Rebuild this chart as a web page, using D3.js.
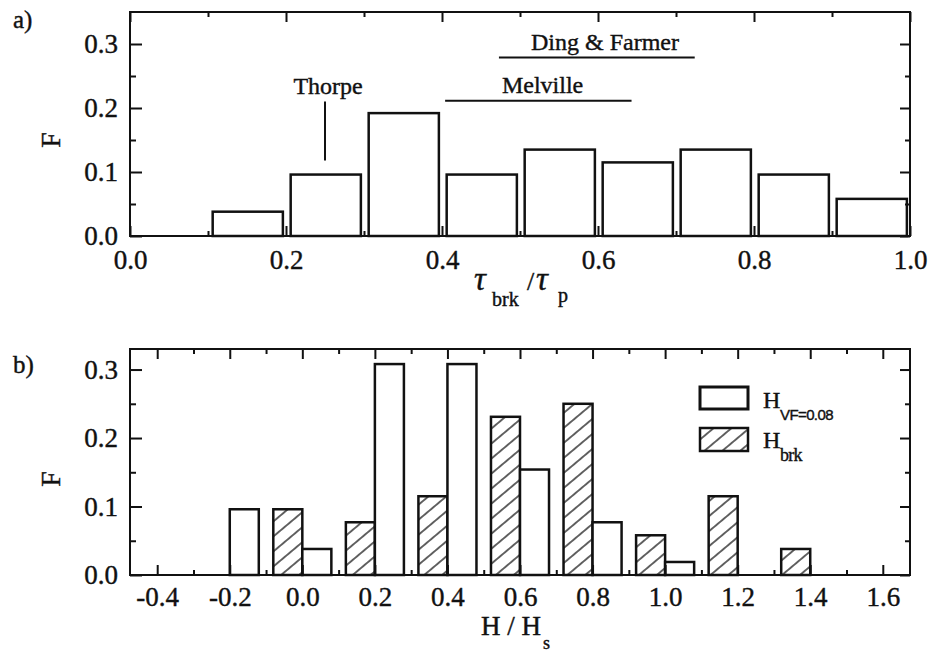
<!DOCTYPE html>
<html>
<head>
<meta charset="utf-8">
<script src="https://cdnjs.cloudflare.com/ajax/libs/d3/7.8.5/d3.min.js"></script>
<style>
body { margin: 0; background: #fff; }
text { font-family: "Liberation Serif", "Times New Roman", serif; fill: #111; stroke: #111; stroke-width: 0.4px; }
.axis text { font-size: 27px; font-family: "Liberation Serif", serif; }
.axis line { stroke: #111; stroke-width: 2; }
.note { font-size: 24px; }
.sub-sans { font-family: "Liberation Sans", Arial, sans-serif; }
</style>
</head>
<body>
<div id="vis"></div>
<script>
// ---- panel a data: breaking time over wave period ----
const binStartA = [0.1, 0.2, 0.3, 0.4, 0.5, 0.6, 0.7, 0.8, 0.9];
const freqA = [0.038, 0.096, 0.192, 0.096, 0.135, 0.115, 0.135, 0.096, 0.058];
const xTicksA = [0.0, 0.2, 0.4, 0.6, 0.8, 1.0];
const xMinorA = [0.1, 0.3, 0.5, 0.7, 0.9];
const yTicksA = [0.0, 0.1, 0.2, 0.3];
const yMinorA = [0.05, 0.15, 0.25];

// other authors' ranges (x range / vertical marker)
const notesA = [
  {name: 'Thorpe', x0: 0.25, x1: 0.25, y0: 0.118, y1: 0.21, tx: 0.254, ty: 0.222},
  {name: 'Melville', x0: 0.404, x1: 0.643, y0: 0.2115, y1: 0.2115, tx: 0.529, ty: 0.223},
  {name: 'Ding & Farmer', x0: 0.473, x1: 0.724, y0: 0.279, y1: 0.279, tx: 0.609, ty: 0.290}
];

// ---- panel b data: wave height over significant height ----
const binCenterB = [-0.2, 0.0, 0.2, 0.4, 0.6, 0.8, 1.0, 1.2, 1.4];
const freqVF = [0.096, 0.038, 0.308, 0.308, 0.154, 0.077, 0.019, 0, 0];
const freqBrk = [0, 0.096, 0.077, 0.115, 0.231, 0.250, 0.058, 0.115, 0.038];
const xTicksB = [-0.4, -0.2, 0.0, 0.2, 0.4, 0.6, 0.8, 1.0, 1.2, 1.4, 1.6];
const xMinorB = [-0.3, -0.1, 0.1, 0.3, 0.5, 0.7, 0.9, 1.1, 1.3, 1.5];
const yTicksB = [0.0, 0.1, 0.2, 0.3];
const yMinorB = [0.05, 0.15, 0.25];

// layout
const left = 130, plotW = 780;
const topA = 12, hA = 224;
const topB = 349, hB = 226;

const svg = d3.select('#vis')
  .append('svg')
  .attr('width', 931)
  .attr('height', 652);

// hatch pattern for H_brk
const defs = svg.append('defs');
const pat = defs.append('pattern')
  .attr('id', 'hatch')
  .attr('patternUnits', 'userSpaceOnUse')
  .attr('width', 11.5)
  .attr('height', 11.5)
  .attr('patternTransform', 'rotate(-40)');
pat.append('rect').attr('width', 11.5).attr('height', 11.5).attr('fill', '#fff');
pat.append('line')
  .attr('x1', 0).attr('x2', 11.5)
  .attr('y1', 5.75).attr('y2', 5.75)
  .attr('stroke', '#111').attr('stroke-width', 1.3);

const fmt = d => d.toFixed(1);

// draws frame + ticks on all four sides (ticks point inward)
function drawAxes(g, x, y, h, xMajor, xMinor, yMajor, yMinor, xPad) {
  const clean = s => s.select('.domain').remove();
  g.append('g').attr('class', 'axis').attr('transform', `translate(0,${h})`)
    .call(d3.axisBottom(x).tickValues(xMajor).tickSize(-10).tickPadding(xPad).tickFormat(fmt)).call(clean);
  g.append('g').attr('class', 'axis').attr('transform', `translate(0,${h})`)
    .call(d3.axisBottom(x).tickValues(xMinor).tickSize(-5).tickFormat('')).call(clean);
  g.append('g').attr('class', 'axis')
    .call(d3.axisTop(x).tickValues(xMajor).tickSize(-10).tickFormat('')).call(clean);
  g.append('g').attr('class', 'axis')
    .call(d3.axisTop(x).tickValues(xMinor).tickSize(-5).tickFormat('')).call(clean);

  g.append('g').attr('class', 'axis')
    .call(d3.axisLeft(y).tickValues(yMajor).tickSize(-12).tickPadding(12).tickFormat(fmt)).call(clean);
  g.append('g').attr('class', 'axis')
    .call(d3.axisLeft(y).tickValues(yMinor).tickSize(-6).tickFormat('')).call(clean);
  g.append('g').attr('class', 'axis').attr('transform', `translate(${plotW},0)`)
    .call(d3.axisRight(y).tickValues(yMajor).tickSize(-10).tickFormat('')).call(clean);
  g.append('g').attr('class', 'axis').attr('transform', `translate(${plotW},0)`)
    .call(d3.axisRight(y).tickValues(yMinor).tickSize(-5).tickFormat('')).call(clean);

  g.append('rect')
    .attr('width', plotW).attr('height', h)
    .attr('fill', 'none').attr('stroke', '#111').attr('stroke-width', 2);
}

// ================= panel a =================
const xA = d3.scaleLinear().domain([0, 1.0]).range([0, plotW]);
const yA = d3.scaleLinear().domain([0, 0.35]).range([hA, 0]);
const gA = svg.append('g').attr('transform', `translate(${left},${topA})`);

gA.selectAll('.barA')
  .data(binStartA.map((s, i) => ({s: s, f: freqA[i]})))
  .join('rect')
  .attr('class', 'barA')
  .attr('x', d => xA(d.s + 0.006))
  .attr('width', d => xA(d.s + 0.096) - xA(d.s + 0.006))
  .attr('y', d => yA(d.f))
  .attr('height', d => hA - yA(d.f))
  .attr('fill', '#fff')
  .attr('stroke', '#111')
  .attr('stroke-width', 2.5);

drawAxes(gA, xA, yA, hA, xTicksA, xMinorA, yTicksA, yMinorA, 14);

// annotation lines and names
gA.selectAll('.note-line')
  .data(notesA)
  .join('line')
  .attr('class', 'note-line')
  .attr('x1', d => xA(d.x0)).attr('x2', d => xA(d.x1))
  .attr('y1', d => yA(d.y0)).attr('y2', d => yA(d.y1))
  .attr('stroke', '#111').attr('stroke-width', 2);
gA.selectAll('.note')
  .data(notesA)
  .join('text')
  .attr('class', 'note')
  .attr('x', d => xA(d.tx))
  .attr('y', d => yA(d.ty))
  .attr('text-anchor', 'middle')
  .text(d => d.name);

// axis titles panel a
svg.append('text').attr('x', 13).attr('y', 28).style('font-size', '25px').text('a)');
svg.append('text')
  .attr('transform', `translate(60,${topA + hA / 2 + 16}) rotate(-90)`)
  .attr('text-anchor', 'middle')
  .style('font-size', '28px')
  .text('F');
svg.append('text').attr('x', 474).attr('y', 290).style('font-size', '33px').style('font-style', 'italic').text('τ');
svg.append('text').attr('x', 492).attr('y', 306).style('font-size', '20px').text('brk');
svg.append('text').attr('x', 527).attr('y', 290).style('font-size', '26px').text('/');
svg.append('text').attr('x', 536).attr('y', 290).style('font-size', '33px').style('font-style', 'italic').text('τ');
svg.append('text').attr('x', 558).attr('y', 302).style('font-size', '20px').text('p');

// ================= panel b =================
const xB = d3.scaleLinear().domain([-0.475, 1.675]).range([0, plotW]);
const yB = d3.scaleLinear().domain([0, 0.33]).range([hB, 0]);
const gB = svg.append('g').attr('transform', `translate(${left},${topB})`);

const rowsB = binCenterB.map((c, i) => ({c: c, vf: freqVF[i], brk: freqBrk[i]}));

gB.selectAll('.barBrk')
  .data(rowsB.filter(d => d.brk > 0))
  .join('rect')
  .attr('class', 'barBrk')
  .attr('x', d => xB(d.c - 0.08))
  .attr('width', d => xB(d.c) - xB(d.c - 0.08))
  .attr('y', d => yB(d.brk))
  .attr('height', d => hB - yB(d.brk))
  .attr('fill', 'url(#hatch)')
  .attr('stroke', '#111')
  .attr('stroke-width', 2.5);

gB.selectAll('.barVF')
  .data(rowsB.filter(d => d.vf > 0))
  .join('rect')
  .attr('class', 'barVF')
  .attr('x', d => xB(d.c))
  .attr('width', d => xB(d.c + 0.08) - xB(d.c))
  .attr('y', d => yB(d.vf))
  .attr('height', d => hB - yB(d.vf))
  .attr('fill', '#fff')
  .attr('stroke', '#111')
  .attr('stroke-width', 2.5);

drawAxes(gB, xB, yB, hB, xTicksB, xMinorB, yTicksB, yMinorB, 12);

// legend
const legend = svg.append('g').attr('transform', 'translate(700,387)');
legend.append('rect').attr('width', 48).attr('height', 22)
  .attr('fill', '#fff').attr('stroke', '#111').attr('stroke-width', 3);
legend.append('rect').attr('y', 41).attr('width', 48).attr('height', 23)
  .attr('fill', 'url(#hatch)').attr('stroke', '#111').attr('stroke-width', 2.5);
legend.append('text').attr('x', 63).attr('y', 21).style('font-size', '24px').text('H');
legend.append('text').attr('x', 80).attr('y', 33).attr('class', 'sub-sans')
  .style('font-size', '15px').style('letter-spacing', '-0.6px').text('VF=0.08');
legend.append('text').attr('x', 63).attr('y', 61).style('font-size', '24px').text('H');
legend.append('text').attr('x', 80).attr('y', 74)
  .style('font-size', '18px').style('letter-spacing', '-0.8px').text('brk');

// axis titles panel b
svg.append('text').attr('x', 13).attr('y', 373).style('font-size', '25px').text('b)');
svg.append('text')
  .attr('transform', `translate(60,${topB + hB / 2 + 17}) rotate(-90)`)
  .attr('text-anchor', 'middle')
  .style('font-size', '28px')
  .text('F');
svg.append('text').attr('x', 481).attr('y', 635).style('font-size', '27px').text('H / H');
svg.append('text').attr('x', 543).attr('y', 649).style('font-size', '18px').text('s');
</script>
</body>
</html>
